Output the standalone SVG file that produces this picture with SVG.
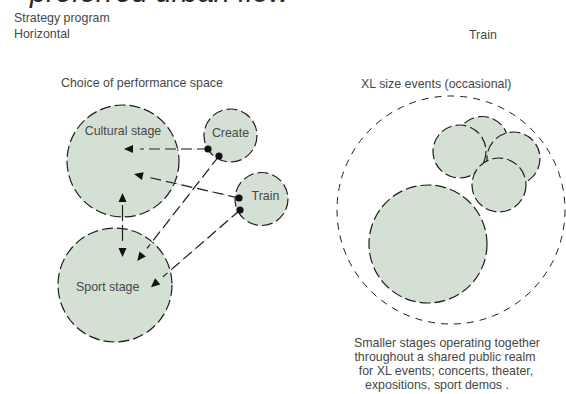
<svg xmlns="http://www.w3.org/2000/svg" width="566" height="394" viewBox="0 0 566 394">
  <style>
    text { font-family: "Liberation Sans", Arial, sans-serif; font-size: 12.4px; fill: #474747; }
    .title { font-size: 29px; font-style: italic; fill: #2a2a2a; }
    .stage { fill: #d5e0d4; stroke: #1e1e1e; stroke-width: 1.2; stroke-dasharray: 11 4; }
    .ring { fill: none; stroke: #1e1e1e; stroke-width: 1; stroke-dasharray: 7 6; }
    .rail { fill: none; stroke: #e3ebe2; stroke-width: 1.1; }
    .dash { fill: none; stroke: #1e1e1e; stroke-width: 1.2; stroke-dasharray: 11 5; }
    .mid { text-anchor: middle; }
  </style>
  <defs>
    <!-- detached arrowhead: sits 7px beyond the line end -->
    <marker id="arrow" viewBox="0 0 9 8" refX="-7" refY="4" markerWidth="9" markerHeight="8" markerUnits="userSpaceOnUse" orient="auto-start-reverse" overflow="visible">
      <path d="M0,0 L9,4 L0,8 z" fill="#111"/>
    </marker>
    <!-- arrowhead touching the line end -->
    <marker id="arrow-close" viewBox="0 0 9 8" refX="0" refY="4" markerWidth="9" markerHeight="8" markerUnits="userSpaceOnUse" orient="auto" overflow="visible">
      <path d="M0,0 L9,4 L0,8 z" fill="#111"/>
    </marker>
    <marker id="dot" viewBox="-4 -4 8 8" refX="0" refY="0" markerWidth="8" markerHeight="8" markerUnits="userSpaceOnUse" overflow="visible">
      <circle r="3.6" fill="#111"/>
    </marker>
  </defs>

  <!-- headings -->
  <text class="title" x="30" y="1.5">preferred urban flow</text>
  <text x="14" y="22">Strategy program</text>
  <text x="14" y="37.5">Horizontal</text>
  <text x="469" y="38.5">Train</text>
  <text x="61" y="87">Choice of performance space</text>
  <text x="361" y="88">XL size events (occasional)</text>

  <!-- left: stages -->
  <g id="cultural-stage">
    <circle class="stage" cx="123" cy="161" r="56"/>
    <text class="mid" x="123" y="135">Cultural stage</text>
  </g>
  <g id="create">
    <circle class="stage" cx="230.5" cy="135.5" r="26.5"/>
    <text class="mid" x="230.5" y="137">Create</text>
  </g>
  <g id="train">
    <circle class="stage" cx="261.5" cy="199" r="26.5"/>
    <text class="mid" x="265.5" y="200">Train</text>
  </g>
  <g id="sport-stage">
    <circle class="stage" cx="115" cy="285" r="57"/>
    <text x="76" y="291">Sport stage</text>
  </g>

  <!-- connectors: pale rail under a dark dashed stroke -->
  <g id="connectors">
    <g id="create-to-cultural">
      <path class="rail" d="M208,149 H140"/>
      <path class="dash" d="M208,149 H140" marker-start="url(#dot)" marker-end="url(#arrow)"/>
    </g>
    <g id="train-to-cultural">
      <path class="rail" d="M239,198 L149.6,177.6"/>
      <path class="dash" d="M239,198 L149.6,177.6" marker-start="url(#dot)" marker-end="url(#arrow)"/>
    </g>
    <g id="create-to-sport">
      <path class="rail" d="M219,156 L147,248.4"/>
      <path class="dash" d="M219,156 L147,248.4" marker-start="url(#dot)" marker-end="url(#arrow)"/>
    </g>
    <g id="train-to-sport">
      <path class="rail" d="M240,210 L163,276.8"/>
      <path class="dash" d="M240,210 L163,276.8" marker-start="url(#dot)" marker-end="url(#arrow)"/>
    </g>
    <g id="sport-cultural">
      <path class="rail" d="M122.5,241 V202"/>
      <path class="dash" d="M122.5,241 V202" style="stroke-dasharray:16 4" marker-start="url(#arrow)" marker-end="url(#arrow-close)"/>
    </g>
  </g>

  <!-- right: XL events realm -->
  <g id="xl-realm">
    <circle class="ring" cx="451" cy="210" r="114"/>
  </g>
  <g id="xl-stage">
    <circle class="stage" cx="428" cy="244" r="59"/>
  </g>
  <g id="small-stage-b">
    <circle class="stage" cx="482" cy="143" r="26.5"/>
  </g>
  <g id="small-stage-a">
    <circle class="stage" cx="459.5" cy="151.5" r="26.5"/>
  </g>
  <g id="small-stage-c">
    <circle class="stage" cx="513.5" cy="158.5" r="26.5"/>
  </g>
  <g id="small-stage-d">
    <circle class="stage" cx="499" cy="185" r="27"/>
  </g>

  <!-- caption -->
  <g id="caption">
    <text class="mid" x="447" y="347">Smaller stages operating together</text>
    <text class="mid" x="445" y="361">throughout a shared public realm</text>
    <text class="mid" x="446" y="375">for XL events; concerts, theater,</text>
    <text class="mid" x="437" y="389">expositions, sport demos .</text>
  </g>
</svg>
